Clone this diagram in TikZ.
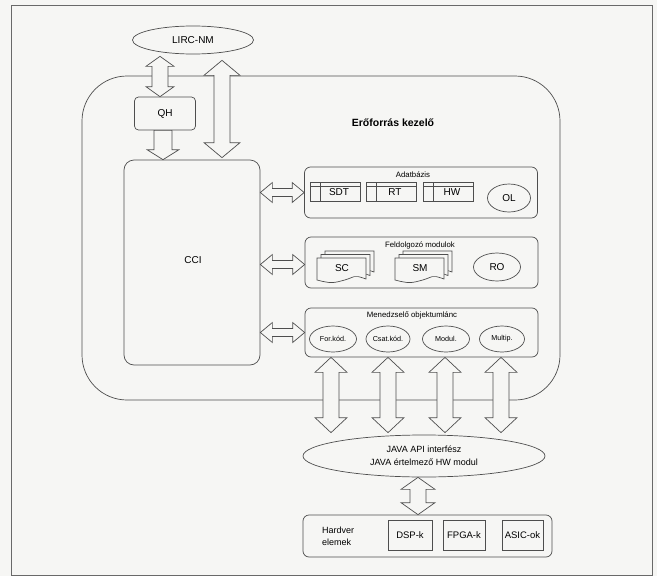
\documentclass[tikz,border=0pt]{standalone}
\usepackage{fontspec}
\setmainfont{Liberation Sans}
\usetikzlibrary{shapes.geometric,calc}
\definecolor{lc}{RGB}{78,78,78}
\definecolor{bg}{RGB}{246,246,244}
\definecolor{fr}{RGB}{105,105,105}
% vertical double block arrow: X, top point, bottom point, shaft half, head half, head length
\newcommand{\vdarrow}[6]{%
  \draw[barrow] let \p1=#2, \p2=#3 in
   (#1pt,\y1) -- ({#1pt+#5pt},{\y1-#6pt}) -- ({#1pt+#4pt},{\y1-#6pt})
   -- ({#1pt+#4pt},{\y2+#6pt}) -- ({#1pt+#5pt},{\y2+#6pt}) -- (#1pt,\y2)
   -- ({#1pt-#5pt},{\y2+#6pt}) -- ({#1pt-#4pt},{\y2+#6pt})
   -- ({#1pt-#4pt},{\y1-#6pt}) -- ({#1pt-#5pt},{\y1-#6pt}) -- cycle;}
% vertical single block arrow pointing down
\newcommand{\vsarrow}[6]{%
  \draw[barrow] let \p1=#2, \p2=#3 in
   ({#1pt-#4pt},\y1) -- ({#1pt+#4pt},\y1) -- ({#1pt+#4pt},{\y2+#6pt})
   -- ({#1pt+#5pt},{\y2+#6pt}) -- (#1pt,\y2) -- ({#1pt-#5pt},{\y2+#6pt})
   -- ({#1pt-#4pt},{\y2+#6pt}) -- cycle;}
% horizontal double block arrow: left point, right point, shaft half, head half, head length
\newcommand{\hdarrow}[5]{%
  \draw[barrow] let \p1=#1, \p2=#2 in
   (\x1,\y1) -- ({\x1+#5pt},{\y1+#4pt}) -- ({\x1+#5pt},{\y1+#3pt})
   -- ({\x2-#5pt},{\y1+#3pt}) -- ({\x2-#5pt},{\y1+#4pt}) -- (\x2,\y1)
   -- ({\x2-#5pt},{\y1-#4pt}) -- ({\x2-#5pt},{\y1-#3pt})
   -- ({\x1+#5pt},{\y1-#3pt}) -- ({\x1+#5pt},{\y1-#4pt}) -- cycle;}
% one sheet of a stack, top-left corner in pixels
\newcommand{\sheet}[2]{%
  \draw[ln,fill=bg] (#1,#2) -- ++(49,0) -- ++(0,21)
    .. controls ++(-14,-5) and ++(16,-4) .. ++(-25,2)
    .. controls ++(-10,3) and ++(8,2) .. ++(-24,-1) -- cycle;}
\begin{document}
\begin{tikzpicture}[x=1pt,y=-1pt,
  ln/.style={draw=lc,line width=0.7pt},
  box/.style={ln,rounded corners=6pt,fill=bg,inner sep=0pt},
  ell/.style={ln,ellipse,fill=bg,inner sep=0pt},
  tab/.style={ln,fill=bg,inner sep=0pt,minimum height=19pt,minimum width=50pt},
  barrow/.style={ln,fill=bg,line join=miter},
  txt/.style={inner sep=0pt,font=\fontsize{10}{12}\selectfont},
  small/.style={inner sep=0pt,font=\fontsize{7.8}{9}\selectfont},
  tiny/.style={font=\fontsize{7.2}{8}\selectfont}]
\fill[bg] (0,0) rectangle (657,576);
\useasboundingbox (0,0) rectangle (657,576);
\draw[draw=fr,line width=0.9pt] (11,5) rectangle (652,575);

% big region
\node[ln,rounded corners=45pt,minimum width=478pt,minimum height=324pt,inner sep=0pt] (erf) at (321,238) {};
\node[inner sep=0pt,font=\bfseries\fontsize{10.5}{12}\selectfont] (title) at (393,123) {Erőforrás kezelő};

% top
\node[ell,minimum width=121pt,minimum height=28pt,txt] (lirc) at (193,40) {LIRC-NM};
\node[box,rounded corners=4pt,minimum width=61pt,minimum height=33pt,txt] (qh) at (165,113.5) {QH};
\node[box,rounded corners=10pt,minimum width=136pt,minimum height=205pt] (cci) at (192,262.5) {};
\node[txt] (ccil) at (193,260) {CCI};

% Adatbazis
\node[box,minimum width=233pt,minimum height=51pt] (db) at (421,192.5) {};
\node[small] (dbl) at (413,175) {Adatbázis};
\node[tab,txt] (sdt) at (335.5,192) {\hspace*{7pt}SDT};
\node[tab,txt] (rt) at (391.5,192) {\hspace*{7pt}RT};
\node[tab,txt] (hwt) at (448.5,192) {\hspace*{7pt}HW};
\foreach \t in {sdt,rt,hwt}{
  \draw[ln] ($(\t.north west)+(0,4)$) -- ($(\t.north east)+(0,4)$);
  \draw[ln] ($(\t.north west)+(10,0)$) -- ($(\t.south west)+(10,0)$);}
\node[ell,minimum width=43pt,minimum height=28pt,txt] (ol) at (509,198) {OL};

% Feldolgozo modulok
\node[box,minimum width=233pt,minimum height=51pt] (fm) at (421.5,262.5) {};
\node[small] (fml) at (420,245) {Feldolgozó modulok};
\sheet{325}{251}\sheet{321}{254.5}\sheet{317}{258}
\node[txt] (sc) at (342,268) {SC};
\sheet{403}{251}\sheet{399}{254.5}\sheet{395}{258}
\node[txt] (sm) at (420,268) {SM};
\node[ell,minimum width=47pt,minimum height=28pt,txt] (ro) at (497,267) {RO};

% Menedzselo objektumlanc
\node[box,minimum width=233pt,minimum height=49pt] (mo) at (421.5,332.5) {};
\node[small] (mol) at (412,315) {Menedzselő objektumlánc};
\node[ell,minimum width=47pt,minimum height=26pt,tiny] (fk) at (333,339) {For.kód.};
\node[ell,minimum width=44pt,minimum height=26pt,tiny] (ck) at (388,339) {Csat.kód.};
\node[ell,minimum width=47pt,minimum height=26pt,tiny] (md) at (446,339) {Modul.};
\node[ell,minimum width=45pt,minimum height=26pt,tiny] (mp) at (502,339) {Multip.};

% JAVA
\node[ell,minimum width=242pt,minimum height=42pt,align=center,inner sep=0pt,
  font=\fontsize{9}{13}\selectfont] (java) at (424,456) {JAVA API interfész\\JAVA értelmező HW modul};

% Hardware
\node[box,minimum width=249pt,minimum height=42pt] (hw) at (427.5,536) {};
\node[anchor=west,align=left,inner sep=0pt,font=\fontsize{9}{12}\selectfont] (hwl) at (322,536) {Hardver\\elemek};
\node[ln,fill=bg,minimum width=44pt,minimum height=30pt,inner sep=0pt,font=\fontsize{9.5}{11}\selectfont] (dsp) at (410,535) {DSP-k};
\node[ln,fill=bg,minimum width=42pt,minimum height=30pt,inner sep=0pt,font=\fontsize{9.5}{11}\selectfont] (fpga) at (464,535) {FPGA-k};
\node[ln,fill=bg,minimum width=41pt,minimum height=30pt,inner sep=0pt,font=\fontsize{9.5}{11}\selectfont] (asic) at (522.5,535) {ASIC-ok};

% arrows
\vdarrow{160}{($(lirc.south)+(0,2)$)}{(qh.north)}{8}{14}{10}
\vdarrow{222}{($(lirc.south)+(0,6)$)}{($(cci.north)+(0,-2)$)}{8}{18}{15}
\vsarrow{163}{(qh.south)}{(cci.north)}{9}{16}{10}
\hdarrow{(cci.east |- db.west)}{(db.west)}{4}{10}{12}
\hdarrow{($(cci.east |- fm.west)+(0,2)$)}{(fm.west)}{4}{10}{12}
\hdarrow{(cci.east |- mo.west)}{(mo.west)}{4}{10}{12}
\vdarrow{331}{(mo.south)}{($(java.north)+(0,-2)$)}{8}{16}{15}
\vdarrow{388}{(mo.south)}{($(java.north)+(0,-2)$)}{8}{16}{15}
\vdarrow{445}{(mo.south)}{($(java.north)+(0,-2)$)}{8}{16}{15}
\vdarrow{501}{(mo.south)}{($(java.north)+(0,-2)$)}{8}{16}{15}
\vdarrow{418}{(java.south)}{(hw.north)}{8}{17}{12}
\end{tikzpicture}
\end{document}
